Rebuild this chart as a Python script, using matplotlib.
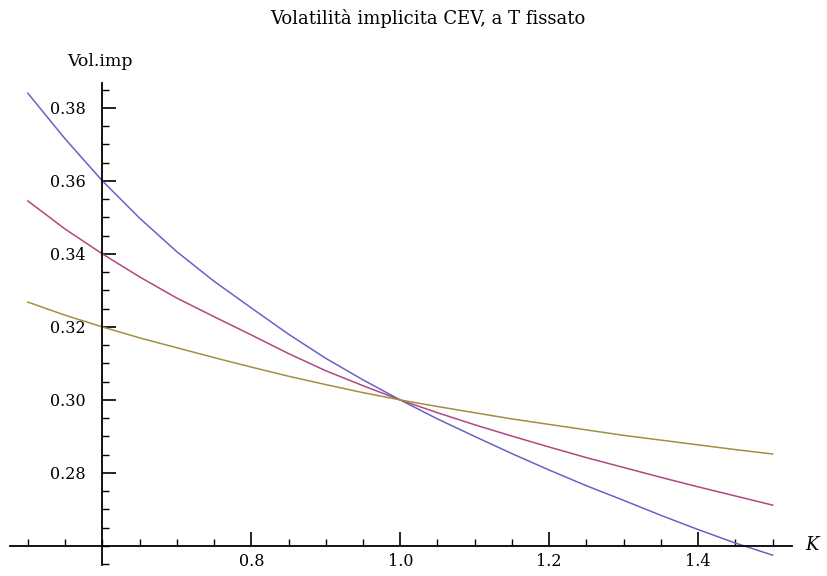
import numpy as np
import matplotlib
matplotlib.use("Agg")
import matplotlib.pyplot as plt
from matplotlib.ticker import MultipleLocator, FixedLocator

# strike values and implied vols
strike = [0.50, 0.55, 0.60, 0.65, 0.70, 0.75, 0.80, 0.85, 0.90, 0.95, 1.00,
          1.05, 1.10, 1.15, 1.20, 1.25, 1.30, 1.35, 1.40, 1.45, 1.50]
vol_blue = [0.3840, 0.3715, 0.3600, 0.3498, 0.3406, 0.3325, 0.3252, 0.3180, 0.3114, 0.3055, 0.3000,
            0.2948, 0.2900, 0.2853, 0.2808, 0.2765, 0.2725, 0.2684, 0.2645, 0.2608, 0.2575]
vol_red = [0.3545, 0.3468, 0.3400, 0.3337, 0.3279, 0.3228, 0.3178, 0.3127, 0.3080, 0.3039, 0.3000,
           0.2965, 0.2932, 0.2901, 0.2871, 0.2842, 0.2815, 0.2788, 0.2762, 0.2737, 0.2712]
vol_yellow = [0.3268, 0.3232, 0.3200, 0.3170, 0.3143, 0.3116, 0.3090, 0.3065, 0.3042, 0.3020, 0.3000,
              0.2982, 0.2965, 0.2948, 0.2933, 0.2918, 0.2903, 0.2890, 0.2877, 0.2864, 0.2852]

x_ticks = [0.8, 1.0, 1.2, 1.4]
y_ticks = [0.28, 0.30, 0.32, 0.34, 0.36, 0.38]

plt.rcParams['font.family'] = ['DejaVu Serif']

fig = plt.figure(figsize=(8.27, 5.76), dpi=100)
ax = fig.add_axes([10 / 827, 11 / 576, 782 / 827, 482 / 576])

colors = ['#6464c8', '#b4467f', '#a09040']
for vals, c in zip([vol_blue, vol_red, vol_yellow], colors):
    ax.plot(strike, vals, color=c, lw=1.1)

ax.set_xlim(0.476, 1.526)
ax.set_ylim(0.2548, 0.3868)

# axes crossing at (0.6, 0.26), Mathematica style
for s in ['top', 'right']:
    ax.spines[s].set_visible(False)
ax.spines['left'].set_position(('data', 0.6))
ax.spines['bottom'].set_position(('data', 0.26))
ax.spines['left'].set_linewidth(1.3)
ax.spines['bottom'].set_linewidth(1.3)

ax.xaxis.set_major_locator(FixedLocator(x_ticks))
ax.xaxis.set_minor_locator(MultipleLocator(0.05))
ax.yaxis.set_major_locator(FixedLocator(y_ticks))
ax.yaxis.set_minor_locator(MultipleLocator(0.005))
ax.set_xticklabels([f"{v:.1f}" for v in x_ticks])
ax.set_yticklabels([f"{v:.2f}" for v in y_ticks])

ax.tick_params(axis='x', which='major', direction='in', length=10, width=1.2, labelsize=11.5, pad=5)
ax.tick_params(axis='x', which='minor', direction='in', length=5, width=1.0)
ax.tick_params(axis='y', which='major', direction='in', length=10, width=1.2, labelsize=11.5, pad=12)
ax.tick_params(axis='y', which='minor', direction='in', length=5, width=1.0)

fig.text(100 / 827, 1 - 62 / 576, 'Vol.imp', ha='center', va='center', fontsize=12.5)
fig.text(812 / 827, 1 - 545 / 576, 'K', ha='center', va='center', fontsize=13, style='italic')
fig.text(428 / 827, 1 - 19 / 576, 'Volatilità implicita CEV, a T fissato', ha='center', va='center', fontsize=13)

fig.savefig('out.png', dpi=100)
